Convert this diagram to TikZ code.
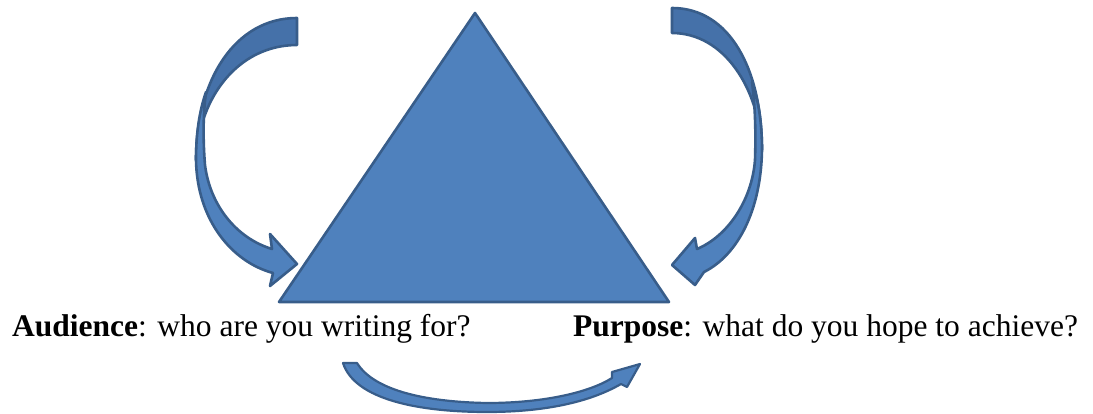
\documentclass[tikz,border=0pt]{standalone}
\usepackage{fontspec}
\setmainfont{Liberation Serif}
\definecolor{shapefill}{HTML}{4F81BD}
\definecolor{shapeback}{HTML}{4571A9}
\definecolor{shapeline}{HTML}{385D8A}
\tikzset{
  shapebody/.style={fill=shapefill, draw=shapeline, line width=2.6pt, line join=round},
  shapebackface/.style={fill=shapeback, draw=shapeline, line width=2.6pt, line join=round},
  label text/.style={inner sep=0pt, anchor=base west, font=\fontsize{31.5}{36}\selectfont}
}
\begin{document}
\begin{tikzpicture}[x=1pt, y=-1pt]
\useasboundingbox (0,0) rectangle (1093,414);
% triangle
\draw[shapebody] (475,13) -- (669,302) -- (279,302) -- cycle;
% left curved arrow: back face
\draw[shapebackface] (297,18) .. controls (235,18) and (196,80) .. (196,160)
  .. controls (199,95) and (240,45) .. (297,45) -- cycle;
% left curved arrow: front
\draw[shapebody] (206,92) .. controls (199,112) and (196,135) .. (196,160)
  .. controls (197,220) and (232,262) .. (273,273) -- (270,286) -- (297,264) -- (270,234) -- (272,249)
  .. controls (236,238) and (210,205) .. (205,165)
  .. controls (203,140) and (203,115) .. (206,92) -- cycle;
% right curved arrow: back face
\draw[shapebackface] (672,8) .. controls (730,8) and (762,70) .. (762,150)
  .. controls (759,88) and (724,33) .. (672,33) -- cycle;
% right curved arrow: front
\draw[shapebody] (752,82) .. controls (759,102) and (762,125) .. (762,150)
  .. controls (761,210) and (738,255) .. (704,272) -- (695,285) -- (672,265) -- (695,238) -- (697,249)
  .. controls (728,236) and (752,200) .. (755,160)
  .. controls (756,130) and (755,105) .. (752,82) -- cycle;
% bottom curved arrow
\draw[shapebody, line width=2.2pt] (343,363) -- (357,363)
  .. controls (375,392) and (430,402) .. (487,403)
  .. controls (545,403) and (590,392) .. (612,378)
  -- (612,372) -- (640,364) -- (627,387) -- (621,384)
  .. controls (590,402) and (545,412) .. (487,412)
  .. controls (420,412) and (355,400) .. (343,363) -- cycle;
% labels
\node[label text] (aud) at (12,337) {\textbf{Audience}: who are you writing for?};
\node[label text] (pur) at (573,337) {\textbf{Purpose}: what do you hope to achieve?};
\end{tikzpicture}
\end{document}
